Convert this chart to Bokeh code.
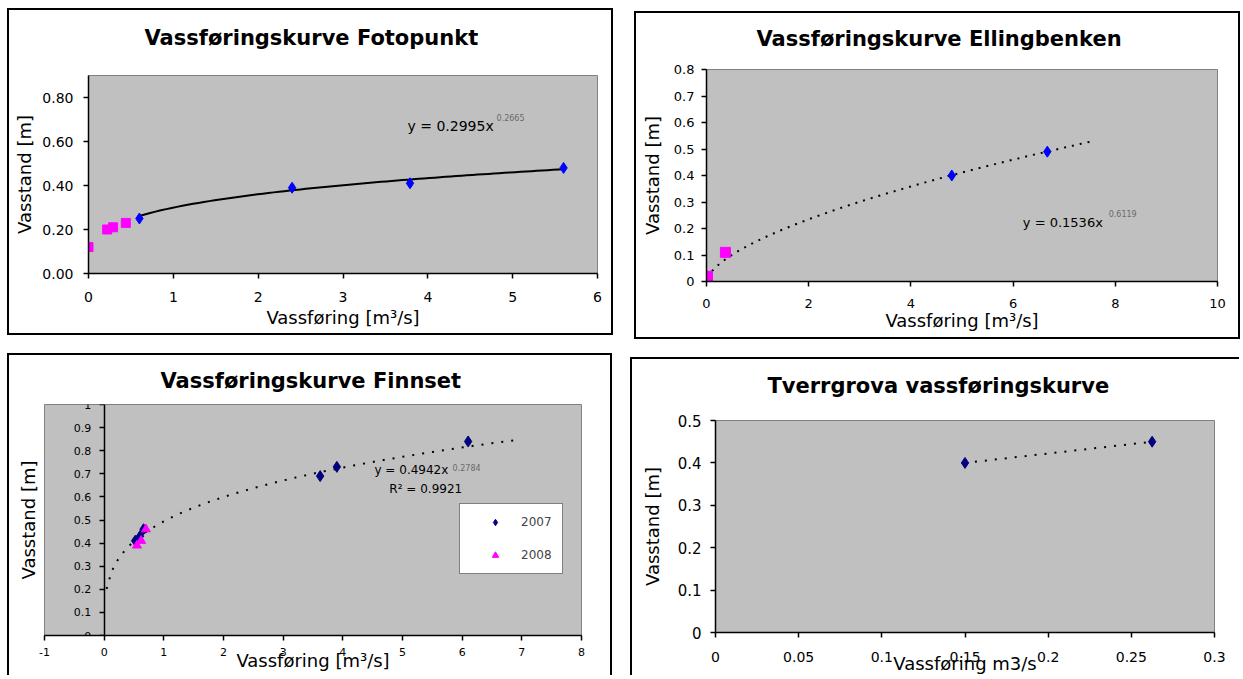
import numpy as np
from bokeh.plotting import figure
from bokeh.models import FixedTicker, Label, Legend, LegendItem, Spacer, Title
from bokeh.layouts import row, column
from bokeh.embed import file_html
from bokeh.resources import INLINE

FONT = "DejaVu Sans"
GRAY = "#c0c0c0"
MAGENTA = "#ff00ff"
BLUE = "#0000ff"
NAVY = "#000080"

# ---------------- Panel 1: Fotopunkt ----------------
fp_title = "Vassføringskurve Fotopunkt"
fp_x_mag = [0.0, 0.22, 0.29, 0.44]
fp_y_mag = [0.12, 0.20, 0.21, 0.23]
fp_x_blue = [0.60, 2.40, 3.79, 5.60]
fp_y_blue = [0.25, 0.39, 0.41, 0.48]
fp_a, fp_b = 0.2995, 0.2665
fp_trend_range = [0.60, 5.60]
fp_eq = "y = 0.2995x"
fp_eq_exp = "0.2665"
fp_xticks = [0, 1, 2, 3, 4, 5, 6]
fp_yticks = [0, 0.2, 0.4, 0.6, 0.8]
fp_ylabels = ["0.00", "0.20", "0.40", "0.60", "0.80"]

# ---------------- Panel 2: Ellingbenken ----------------
el_title = "Vassføringskurve Ellingbenken"
el_x_mag = [0.02, 0.37]
el_y_mag = [0.02, 0.11]
el_x_blue = [4.80, 6.67]
el_y_blue = [0.40, 0.49]
el_a, el_b = 0.1536, 0.6119
el_trend_range = [0.02, 7.50]
el_eq = "y = 0.1536x"
el_eq_exp = "0.6119"
el_xticks = [0, 2, 4, 6, 8, 10]
el_yticks = [0, 0.1, 0.2, 0.3, 0.4, 0.5, 0.6, 0.7, 0.8]
el_ylabels = ["0", "0.1", "0.2", "0.3", "0.4", "0.5", "0.6", "0.7", "0.8"]

# ---------------- Panel 3: Finnset ----------------
fi_title = "Vassføringskurve Finnset"
fi_x_2007 = [0.52, 0.60, 0.66, 3.62, 3.90, 6.10]
fi_y_2007 = [0.41, 0.43, 0.46, 0.69, 0.73, 0.84]
fi_x_2008 = [0.55, 0.62, 0.70]
fi_y_2008 = [0.39, 0.41, 0.46]
fi_a, fi_b = 0.4942, 0.2784
fi_trend_range = [0.04, 6.90]
fi_eq = "y = 0.4942x"
fi_eq_exp = "0.2784"
fi_r2 = "R² = 0.9921"
fi_series = ["2007", "2008"]
fi_xticks = [-1, 0, 1, 2, 3, 4, 5, 6, 7, 8]
fi_xlabels = ["-1", "0", "1", "2", "3", "4", "5", "6", "7", "8"]
fi_yticks = [0, 0.1, 0.2, 0.3, 0.4, 0.5, 0.6, 0.7, 0.8, 0.9, 1]
fi_ylabels = ["0", "0.1", "0.2", "0.3", "0.4", "0.5", "0.6", "0.7", "0.8", "0.9", "1"]

# ---------------- Panel 4: Tverrgrova ----------------
tv_title = "Tverrgrova vassføringskurve"
tv_x = [0.15, 0.2625]
tv_y = [0.40, 0.45]
tv_xticks = [0, 0.05, 0.1, 0.15, 0.2, 0.25, 0.3]
tv_xlabels = ["0", "0.05", "0.1", "0.15", "0.2", "0.25", "0.3"]
tv_yticks = [0, 0.1, 0.2, 0.3, 0.4, 0.5]
tv_ylabels = ["0", "0.1", "0.2", "0.3", "0.4", "0.5"]

XLABEL = "Vassføring [m³/s]"
YLABEL = "Vasstand [m]"


def style_axis(ax, size, ticks, labels=None, tick_standoff=8, label_standoff=4):
    ax.ticker = FixedTicker(ticks=ticks)
    if labels is not None:
        ax.major_label_overrides = dict(zip(ticks, labels))
    ax.axis_line_color = "black"
    ax.axis_line_width = 1.5
    ax.major_tick_line_color = "black"
    ax.major_tick_line_width = 1.5
    ax.major_tick_out = 5
    ax.major_tick_in = 0
    ax.minor_tick_line_color = None
    ax.major_label_text_font = FONT
    ax.major_label_text_font_size = f"{size}px"
    ax.major_label_text_color = "black"
    ax.major_label_standoff = tick_standoff
    ax.axis_label_text_font = FONT
    ax.axis_label_text_font_size = "18px"
    ax.axis_label_text_font_style = "normal"
    ax.axis_label_text_color = "black"
    ax.axis_label_standoff = label_standoff


def make_fig(w, h, mb, title, gap, t_offset, xr, yr, css):
    p = figure(width=w, height=h, x_range=xr, y_range=yr,
               output_backend="svg", toolbar_location=None,
               min_border_left=mb[0], min_border_right=mb[1],
               min_border_top=mb[2], min_border_bottom=mb[3],
               background_fill_color=GRAY, border_fill_color="white",
               outline_line_color="#808080", outline_line_width=1,
               styles=css)
    p.title.text = title
    p.title.align = "left"
    p.title.text_font = FONT
    p.title.text_font_size = "21px"
    p.title.text_font_style = "bold"
    p.title.text_color = "black"
    p.title.standoff = 0
    p.title.offset = t_offset
    # invisible spacer between title and frame
    p.add_layout(Title(text=" ", text_font_size="1px", standoff=gap - 3), "above")
    p.grid.visible = False
    return p


def eq_labels(p, x, y, xe, ye, text, exp, size):
    p.add_layout(Label(x=x, y=y, text=text, text_font=FONT,
                       text_font_size=f"{size}px", text_baseline="middle",
                       text_color="black"))
    p.add_layout(Label(x=xe, y=ye, text=exp, text_font=FONT,
                       text_font_size="8px", text_baseline="middle",
                       text_color="#6a6a6a"))


def trend(a, b, rng, n=80):
    xs = np.linspace(rng[0], rng[1], n)
    return xs, a * xs ** b


BORDER = "2px solid black"

# ---- Panel 1 ----
p1 = make_fig(606, 327, (79, 18, 65, 64), fp_title, 26, 56, (0, 6), (0, 0.9),
              {"border": BORDER})
style_axis(p1.xaxis[0], 14, fp_xticks, None, 13, 2)
style_axis(p1.yaxis[0], 14, fp_yticks, fp_ylabels, 10, 4)
p1.xaxis.axis_label = XLABEL
p1.yaxis.axis_label = YLABEL
tx, ty = trend(fp_a, fp_b, fp_trend_range)
p1.line(tx, ty, line_color="black", line_width=2)
p1.scatter(fp_x_mag, fp_y_mag, marker="square", size=9, color=MAGENTA)
p1.scatter(fp_x_blue, fp_y_blue, marker="diamond", size=11, color=BLUE)
eq_labels(p1, 3.76, 0.669, 4.81, 0.71, fp_eq, fp_eq_exp, 14)

# ---- Panel 2 ----
p2 = make_fig(606, 328, (70, 25, 56, 60), el_title, 19, 50, (0, 10), (0, 0.8),
              {"border": BORDER})
style_axis(p2.xaxis[0], 13, el_xticks, None, 12, -1)
style_axis(p2.yaxis[0], 13, el_yticks, el_ylabels, 7, 8)
p2.xaxis.axis_label = XLABEL
p2.yaxis.axis_label = YLABEL
tx, ty = trend(el_a, el_b, el_trend_range)
p2.line(tx, ty, line_color="black", line_width=2, line_dash="2 6")
p2.scatter(el_x_mag, el_y_mag, marker="square", size=10, color=MAGENTA)
p2.scatter(el_x_blue, el_y_blue, marker="diamond", size=11, color=BLUE)
eq_labels(p2, 6.19, 0.223, 7.87, 0.257, el_eq, el_eq_exp, 13)

# ---- Panel 3 ----
p3 = make_fig(605, 322, (35, 33, 49, 42), fi_title, 12, 116, (-1, 8), (0, 1),
              {"border-top": BORDER, "border-left": BORDER, "border-right": BORDER})
style_axis(p3.xaxis[0], 11, fi_xticks, fi_xlabels, 7, -9)
style_axis(p3.yaxis[0], 11, fi_yticks, fi_ylabels, 8, 4)
p3.yaxis.fixed_location = 0
p3.xaxis.axis_label = XLABEL
p3.add_layout(Title(text=YLABEL, align="center", text_font=FONT,
                    text_font_size="18px", text_font_style="normal",
                    text_color="black", standoff=12), "left")
tx, ty = trend(fi_a, fi_b, fi_trend_range)
p3.line(tx, ty, line_color="black", line_width=2, line_dash="2 8")
r07 = p3.scatter(fi_x_2007, fi_y_2007, marker="diamond", size=11, color=NAVY)
r08 = p3.scatter(fi_x_2008, fi_y_2008, marker="triangle", size=9, color=MAGENTA)
eq_labels(p3, 4.53, 0.716, 5.84, 0.727, fi_eq, fi_eq_exp, 12)
p3.add_layout(Label(x=4.78, y=0.633, text=fi_r2, text_font=FONT,
                    text_font_size="12px", text_baseline="middle", text_color="black"))
legend = Legend(items=[LegendItem(label=fi_series[0], renderers=[r07]),
                       LegendItem(label=fi_series[1], renderers=[r08])],
                location=(415, 61), border_line_color="black", border_line_width=1.5,
                background_fill_color="white", background_fill_alpha=1,
                label_text_font=FONT, label_text_font_size="12px",
                glyph_width=50, glyph_height=16, label_height=16, label_standoff=1,
                spacing=17, padding=10, margin=0)
p3.add_layout(legend)

# ---- Panel 4 ----
p4 = make_fig(609, 318, (83, 27, 61, 45), tv_title, 23, 52, (0, 0.3), (0, 0.5),
              {"border-top": BORDER, "border-left": BORDER})
style_axis(p4.xaxis[0], 14, tv_xticks, tv_xlabels, 14, -12)
style_axis(p4.yaxis[0], 15, tv_yticks, tv_ylabels, 9, 12)
p4.xaxis.axis_label = "Vassføring m3/s"
p4.yaxis.axis_label = YLABEL
p4.line(tv_x, tv_y, line_color="black", line_width=2, line_dash="2 8")
p4.scatter(tv_x, tv_y, marker="diamond", size=11, color=NAVY)

top = row(Spacer(width=7), p1, Spacer(width=21), column(Spacer(height=3), p2))
bottom = row(Spacer(width=7), p3, Spacer(width=18), column(Spacer(height=4), p4))
layout = column(Spacer(height=8), top, Spacer(height=14), bottom)

open("out.html", "w").write(file_html(layout, INLINE))
